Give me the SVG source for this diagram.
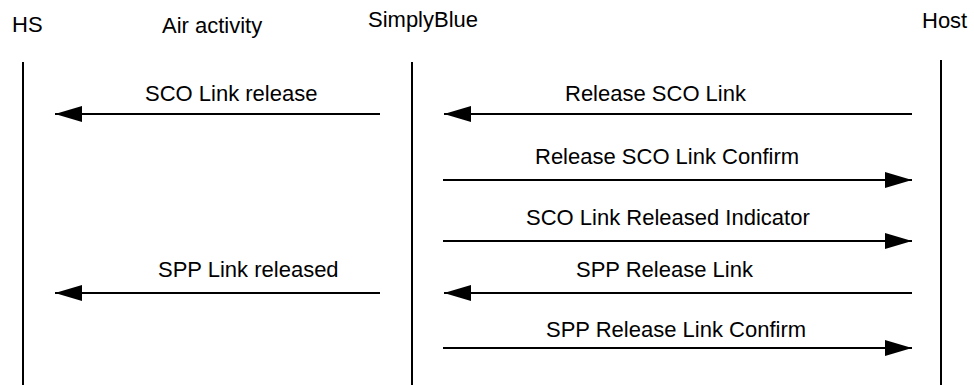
<svg xmlns="http://www.w3.org/2000/svg" width="974" height="385" viewBox="0 0 974 385">
<style>
text{font-family:"Liberation Sans",Arial,sans-serif;font-size:22px;fill:#000}
.life{stroke:#000;stroke-width:2}
.msg{stroke:#000;stroke-width:2;fill:none;marker-end:url(#ah)}
</style>
<defs>
<marker id="ah" markerUnits="userSpaceOnUse" markerWidth="27" markerHeight="16" refX="27" refY="8" orient="auto" viewBox="0 0 27 16">
<path d="M0,0 L27,8 L0,16 Z" fill="#000"/>
</marker>
</defs>
<rect width="974" height="385" fill="#fff"/>
<g id="hs">
<text x="12" y="32">HS</text>
<line class="life" x1="23" y1="62" x2="23" y2="385"/>
</g>
<g id="air">
<text x="162" y="33">Air activity</text>
</g>
<g id="simplyblue">
<text x="368" y="27">SimplyBlue</text>
<line class="life" x1="412" y1="62" x2="412" y2="385"/>
</g>
<g id="host">
<text x="922" y="28">Host</text>
<line class="life" x1="941" y1="60" x2="941" y2="385"/>
</g>
<g id="connectors">
<line class="msg" x1="380" y1="114" x2="55" y2="114"/>
<text x="145" y="101">SCO Link release</text>
<line class="msg" x1="912" y1="114" x2="444" y2="114"/>
<text x="565" y="101">Release SCO Link</text>
<line class="msg" x1="443" y1="180" x2="912" y2="180"/>
<text x="535" y="164">Release SCO Link Confirm</text>
<line class="msg" x1="443" y1="241" x2="912" y2="241"/>
<text x="526" y="225">SCO Link Released Indicator</text>
<line class="msg" x1="380" y1="293" x2="55" y2="293"/>
<text x="158" y="277">SPP Link released</text>
<line class="msg" x1="912" y1="293" x2="444" y2="293"/>
<text x="576" y="277">SPP Release Link</text>
<line class="msg" x1="443" y1="348" x2="912" y2="348"/>
<text x="546" y="337">SPP Release Link Confirm</text>
</g>
</svg>
